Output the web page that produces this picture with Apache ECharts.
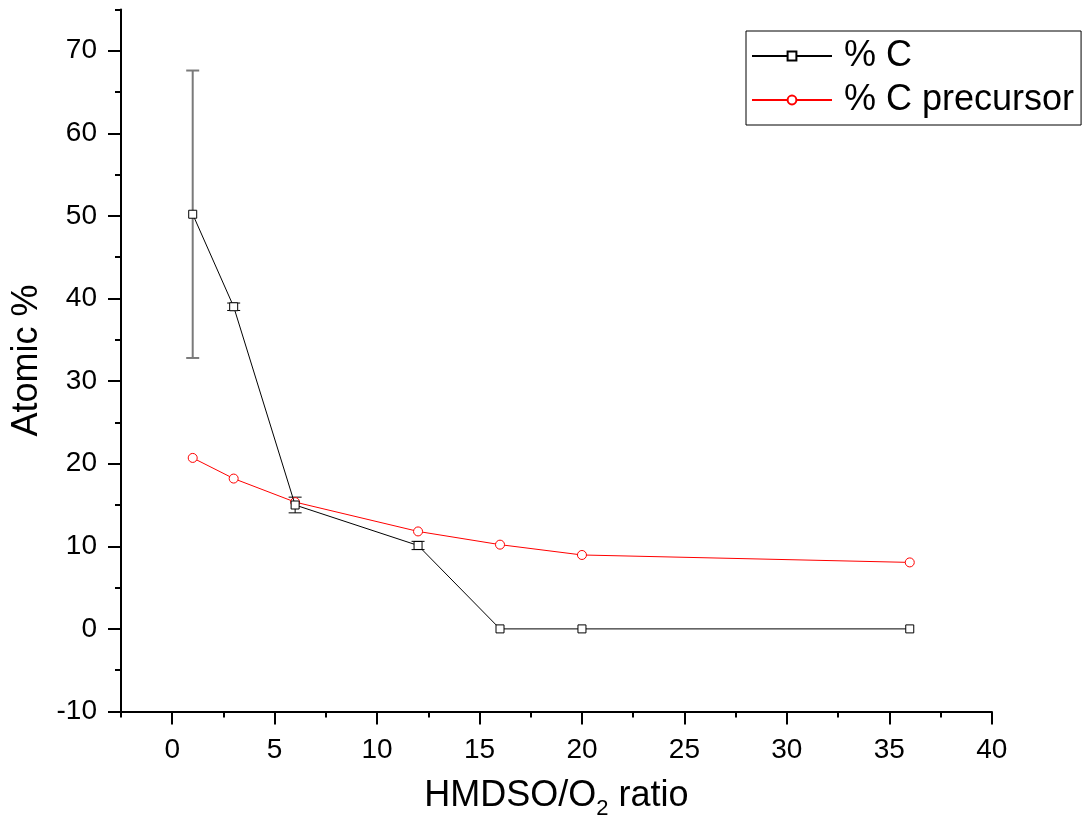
<!DOCTYPE html>
<html>
<head>
<meta charset="utf-8">
<style>
  html, body { margin: 0; padding: 0; background: #fff; }
  #chart { width: 1084px; height: 827px; }
</style>
<script src="https://cdn.jsdelivr.net/npm/echarts@6/dist/echarts.min.js"></script>
</head>
<body>
<div id="chart"></div>
<script>
// HMDSO/O2 ratio for each deposition
const ratios = [1, 3, 6, 12, 16, 20, 36];
// measured carbon content (atomic %) and its standard deviation
const carbonMeasured = [50.2, 39.0, 15.0, 10.1, 0, 0, 0];
const carbonError = [17.4, 0.45, 0.95, 0.5, 0, 0, 0];
// carbon content expected from the precursor mix (atomic %)
const carbonPrecursor = [20.7, 18.2, 15.35, 11.8, 10.2, 8.95, 8.05];

// labelled ticks
const xTicks = [0, 5, 10, 15, 20, 25, 30, 35, 40];
const yTicks = [-10, 0, 10, 20, 30, 40, 50, 60, 70];

const seriesNames = ['% C', '% C precursor'];

const FONT = 'Liberation Sans, Arial, Helvetica, sans-serif';

const measuredPoints = ratios.map((x, i) => [x, carbonMeasured[i]]);
const precursorPoints = ratios.map((x, i) => [x, carbonPrecursor[i]]);
const errorPoints = ratios
  .map((x, i) => [x, carbonMeasured[i] - carbonError[i], carbonMeasured[i] + carbonError[i], carbonError[i]])
  .filter(p => p[3] > 0);

const axisLineStyle = { color: '#000', width: 2 };

const chart = echarts.init(document.getElementById('chart'), null, { renderer: 'canvas' });

chart.setOption({
  animation: false,
  backgroundColor: '#fff',
  textStyle: { fontFamily: FONT, color: '#000' },
  grid: { left: 121, right: 92.3, top: 9.4, bottom: 115.5, containLabel: false },
  legend: {
    data: seriesNames,
    orient: 'vertical',
    left: 746,
    top: 31,
    padding: [7, 7, 7, 5],
    itemGap: 8,
    itemWidth: 80,
    itemHeight: 11,
    borderColor: '#000',
    borderWidth: 1,
    textStyle: { fontFamily: FONT, fontSize: 36, color: '#000', padding: [0, 0, 0, 7] }
  },
  xAxis: [
    {
      type: 'value',
      min: -2.5,
      max: 40,
      position: 'bottom',
      name: '{a|HMDSO/O}{sub|2}{a| ratio}',
      nameLocation: 'middle',
      nameGap: 62,
      nameTextStyle: {
        rich: {
          a: { fontFamily: FONT, fontSize: 36, color: '#000' },
          sub: { fontFamily: FONT, fontSize: 22, color: '#000', padding: [24, 0, 0, 0] }
        }
      },
      axisLine: { show: true, onZero: false, lineStyle: axisLineStyle },
      axisTick: { show: true, inside: false, length: 13, lineStyle: axisLineStyle, customValues: xTicks },
      axisLabel: { fontFamily: FONT, fontSize: 28, color: '#000', margin: 25, customValues: xTicks },
      splitLine: { show: false }
    },
    {
      // minor ticks every 2.5
      type: 'value',
      min: -2.5,
      max: 40,
      interval: 2.5,
      position: 'bottom',
      offset: 0,
      axisLine: { show: false, onZero: false },
      axisTick: { show: true, length: 6, lineStyle: axisLineStyle },
      axisLabel: { show: false },
      splitLine: { show: false }
    }
  ],
  yAxis: [
    {
      type: 'value',
      min: -10,
      max: 75,
      position: 'left',
      name: 'Atomic %',
      nameLocation: 'middle',
      nameGap: 76,
      nameRotate: 90,
      nameTextStyle: { fontFamily: FONT, fontSize: 36, color: '#000' },
      axisLine: { show: true, onZero: false, lineStyle: axisLineStyle },
      axisTick: { show: true, inside: false, length: 13, lineStyle: axisLineStyle, customValues: yTicks },
      axisLabel: { fontFamily: FONT, fontSize: 28, color: '#000', margin: 24, customValues: yTicks },
      splitLine: { show: false }
    },
    {
      // minor ticks every 5
      type: 'value',
      min: -10,
      max: 75,
      interval: 5,
      position: 'left',
      offset: 0,
      axisLine: { show: false, onZero: false },
      axisTick: { show: true, length: 6, lineStyle: axisLineStyle },
      axisLabel: { show: false },
      splitLine: { show: false }
    }
  ],
  series: [
    {
      name: 'error',
      type: 'custom',
      xAxisIndex: 0,
      yAxisIndex: 0,
      z: 1,
      silent: true,
      encode: { x: 0, y: [1, 2] },
      data: errorPoints,
      renderItem: function (params, api) {
        const x = api.value(0);
        const lo = api.coord([x, api.value(1)]);
        const hi = api.coord([x, api.value(2)]);
        const half = 6.5;
        const style = { stroke: '#000', lineWidth: 1 };
        const big = Math.abs(lo[1] - hi[1]) > 40;
        if (big) { style.stroke = '#7a7a7a'; style.lineWidth = 2; }
        return {
          type: 'group',
          children: [
            { type: 'line', shape: { x1: lo[0], y1: lo[1], x2: hi[0], y2: hi[1] }, style: style },
            { type: 'line', shape: { x1: lo[0] - half, y1: lo[1], x2: lo[0] + half, y2: lo[1] }, style: style },
            { type: 'line', shape: { x1: hi[0] - half, y1: hi[1], x2: hi[0] + half, y2: hi[1] }, style: style }
          ]
        };
      }
    },
    {
      name: seriesNames[0],
      type: 'line',
      z: 3,
      data: measuredPoints,
      symbol: 'rect',
      symbolSize: 8,
      showAllSymbol: true,
      lineStyle: { color: '#000', width: 1 },
      itemStyle: { color: '#fff', borderColor: '#000', borderWidth: 1 },
      emphasis: { disabled: true }
    },
    {
      name: seriesNames[1],
      type: 'line',
      z: 2,
      data: precursorPoints,
      symbol: 'circle',
      symbolSize: 9,
      showAllSymbol: true,
      lineStyle: { color: '#ff0000', width: 1 },
      itemStyle: { color: '#fff', borderColor: '#ff0000', borderWidth: 1 },
      emphasis: { disabled: true }
    }
  ]
});
</script>
</body>
</html>
